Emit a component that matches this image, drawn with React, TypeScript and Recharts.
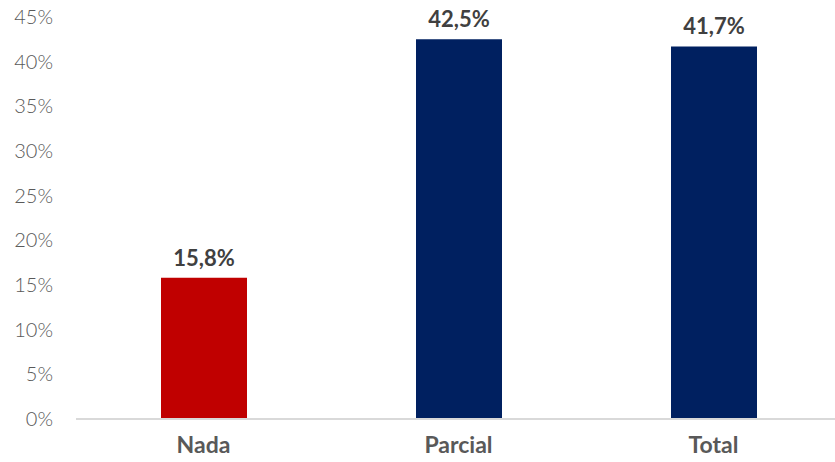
import React from 'react';
import { BarChart, Bar, XAxis, YAxis, Cell, LabelList } from 'recharts';

const categories = ['Nada', 'Parcial', 'Total'];
const values = [15.8, 42.5, 41.7];
const barColors = ['#C00000', '#002060', '#002060'];
const yTicks = [0, 5, 10, 15, 20, 25, 30, 35, 40, 45];

const data = categories.map((name, i) => ({ name, value: values[i] }));

const FONT = 'Lato, "Open Sans", sans-serif';

const fmtPct = (v: number) => `${v.toFixed(1).replace('.', ',')}%`;

export default function App() {
  return (
    <div style={{ position: 'absolute', top: 0, left: 0, width: 835, height: 462, overflow: 'hidden', fontFamily: FONT }}>
      <BarChart width={841} height={462} data={data} margin={{ top: 17, right: 0, left: 0, bottom: 0 }}>
        <XAxis
          dataKey="name"
          height={43}
          tickLine={false}
          tickMargin={12}
          axisLine={{ stroke: '#D9D9D9', strokeWidth: 2 }}
          tick={{ fill: '#595959', fontSize: 23, fontWeight: 700, fontFamily: FONT }}
        />
        <YAxis
          width={76}
          domain={[0, 45]}
          ticks={yTicks}
          interval={0}
          axisLine={false}
          tickLine={false}
          tickMargin={17}
          tickFormatter={(v: number) => `${v}%`}
          tick={{ fill: '#595959', fontSize: 20, fontWeight: 300, fontFamily: FONT }}
        />
        <Bar dataKey="value" barSize={86} isAnimationActive={false}>
          {data.map((d, i) => (
            <Cell key={d.name} fill={barColors[i]} />
          ))}
          <LabelList
            dataKey="value"
            position="top"
            offset={12}
            formatter={(v: any) => fmtPct(Number(v))}
            style={{ fill: '#404040', fontSize: 22, fontWeight: 700, fontFamily: FONT }}
          />
        </Bar>
      </BarChart>
    </div>
  );
}
